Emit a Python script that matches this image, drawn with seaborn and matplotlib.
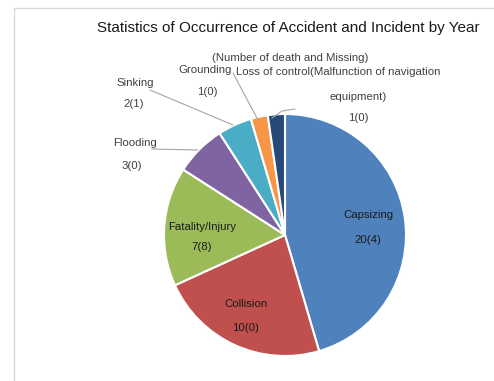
import matplotlib
matplotlib.use("Agg")
import matplotlib.pyplot as plt
from matplotlib.lines import Line2D
import seaborn as sns

sns.set_theme(style="white")
plt.rcParams["font.family"] = ["Liberation Sans", "DejaVu Sans"]

categories = ["Capsizing", "Collision", "Fatality/Injury", "Flooding",
              "Sinking", "Grounding",
              "Loss of control(Malfunction of navigation\n\nequipment)"]
cases = [20, 10, 7, 3, 2, 1, 1]
deaths_missing = [4, 0, 8, 0, 1, 0, 0]
colors = ["#4F81BD", "#C0504D", "#9BBB59", "#8064A2",
          "#4BACC6", "#F79646", "#254A7A"]

W, H = 494, 381
fig = plt.figure(figsize=(W / 100, H / 100), dpi=100)

# pie center and radius in pixels
cx, cy, r = 285, 235, 121
ax = fig.add_axes([(cx - r) / W, (H - cy - r) / H, 2 * r / W, 2 * r / H])
ax.pie(cases, colors=sns.color_palette(colors), startangle=90,
       counterclock=False, radius=1.0,
       wedgeprops=dict(edgecolor="white", linewidth=1.5))
ax.set_xlim(-1, 1)
ax.set_ylim(-1, 1)
ax.set_aspect("equal")
ax.axis("off")


def d(px, py):
    return ((px - cx) / r, (cy - py) / r)


fs = 8.2
dark = "#1a1a1a"
grey = "#404040"

# labels inside the slices
inside = {0: (368, 215, 240), 1: (246, 304, 328), 2: (202, 227, 247)}
for i, (px, py1, py2) in inside.items():
    ax.text(*d(px, py1), categories[i], ha="center", va="center",
            fontsize=fs, color=dark)
    ax.text(*d(px, py2), f"{cases[i]}({deaths_missing[i]})", ha="center",
            va="center", fontsize=fs, color=dark)

# labels outside with leader lines
outside = {3: ((135, 143), (132, 166)),
           4: ((135, 83), (134, 104)),
           5: ((205, 70), (207, 92))}
for i, (p1, p2) in outside.items():
    ax.text(*d(*p1), categories[i], ha="center", va="center",
            fontsize=fs, color=grey, clip_on=False)
    ax.text(*d(*p2), f"{cases[i]}({deaths_missing[i]})", ha="center",
            va="center", fontsize=fs, color=grey, clip_on=False)

ax.text(*d(338, 72), "Loss of control(Malfunction of navigation",
        ha="center", va="center", fontsize=fs, color=grey, clip_on=False)
ax.text(*d(358, 97), "equipment)", ha="center", va="center",
        fontsize=fs, color=grey, clip_on=False)
ax.text(*d(358, 118), f"{cases[6]}({deaths_missing[6]})", ha="center",
        va="center", fontsize=fs, color=grey, clip_on=False)

leaders = [
    [(152, 149), (198, 150)],
    [(150, 90), (233, 125)],
    [(233, 73), (258, 120)],
    [(272, 118), (282, 111), (295, 109)],
]
for pts in leaders:
    xs, ys = zip(*[d(*p) for p in pts])
    ax.plot(xs, ys, color="#a6a6a6", linewidth=0.8, clip_on=False)

fig.text(288 / W, 1 - 28 / H,
         "Statistics of Occurrence of Accident and Incident by Year",
         ha="center", va="center", fontsize=11, color="#1a1a1a")
fig.text(290 / W, 1 - 58 / H, "(Number of death and Missing)",
         ha="center", va="center", fontsize=fs, color=grey)

# chart area frame
fig.add_artist(Line2D([14 / W, 1], [1 - 8 / H, 1 - 8 / H],
                      transform=fig.transFigure, color="#d9d9d9", lw=1))
fig.add_artist(Line2D([14 / W, 14 / W], [0, 1 - 8 / H],
                      transform=fig.transFigure, color="#d9d9d9", lw=1))

fig.savefig("out.png", dpi=100)
